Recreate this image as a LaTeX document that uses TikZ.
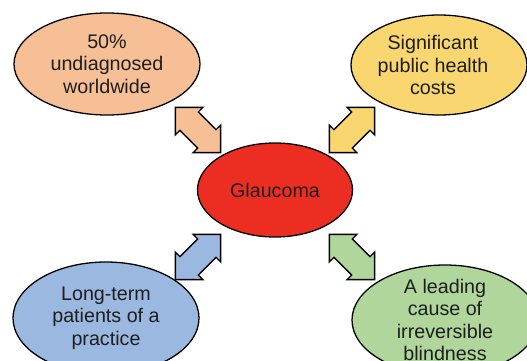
\documentclass[tikz,border=0pt]{standalone}
\usepackage{xcolor}
\usepackage{fontspec}
\setmainfont{Liberation Sans}
\usepackage{tikz}
\usetikzlibrary{shapes.geometric}

\definecolor{peach}{RGB}{246,191,150}
\definecolor{sunyellow}{RGB}{249,214,112}
\definecolor{glaured}{RGB}{236,46,34}
\definecolor{skyblue}{RGB}{155,185,224}
\definecolor{leafgreen}{RGB}{176,214,156}
\definecolor{inkgray}{RGB}{30,30,30}

\tikzset{
	bubble/.style={ellipse, draw=black, line width=1.3pt, inner sep=0pt},
	bubbletext/.style={align=center, text=inkgray, inner sep=0pt, font=\fontsize{19.7}{22.6}\selectfont},
	arrowline/.style={draw=black, line width=1.3pt, line join=miter},
}

% block arrow with two heads: centre, angle, fill colour
\newcommand{\twinarrow}[3]{%
	\begin{scope}[shift={#1}, rotate=#2]
		\filldraw[arrowline, fill=#3] (-32,0) -- (-12.5,19.5) -- (-12.5,13) -- (12.5,13) -- (12.5,19.5)
			-- (32,0) -- (12.5,-19.5) -- (12.5,-13) -- (-12.5,-13) -- (-12.5,-19.5) -- cycle;
	\end{scope}}

\begin{document}
\begin{tikzpicture}[x=1pt, y=-1pt]
	\useasboundingbox (0,0) rectangle (527,361);
	\clip (0,0) rectangle (527,361);
	\fill[white] (0,0) rectangle (527,361);

	% the five bubbles
	\node[bubble, fill=glaured, minimum width=155, minimum height=94] (glaucoma) at (275,190) {};
	\node[bubble, fill=peach, minimum width=186, minimum height=102] (undiag) at (107,64) {};
	\node[bubble, fill=sunyellow, minimum width=176, minimum height=100] (costs) at (439,65) {};
	\node[bubble, fill=skyblue, minimum width=186, minimum height=112] (patients) at (106,318) {};
	\node[bubble, fill=leafgreen, minimum width=186, minimum height=110] (blind) at (445,320) {};

	\node[bubbletext] (glaucomatext) at (glaucoma) {Glaucoma};
	\node[bubbletext] (undiagtext) at (undiag) {50\%\\undiagnosed\\worldwide};
	\node[bubbletext] (coststext) at ([xshift=-6]costs.center) {Significant\\public health\\costs};
	\node[bubbletext] (patientstext) at (patients) {Long-term\\patients of a\\practice};
	\node[bubbletext] (blindtext) at (blind) {A leading\\cause of\\irreversible\\blindness};

	% arrows between the centre and the bubbles
	\twinarrow{(198,130)}{-45}{peach}
	\twinarrow{(352,130)}{45}{sunyellow}
	\twinarrow{(198,257)}{45}{skyblue}
	\twinarrow{(352,257)}{-45}{leafgreen}
\end{tikzpicture}
\end{document}
